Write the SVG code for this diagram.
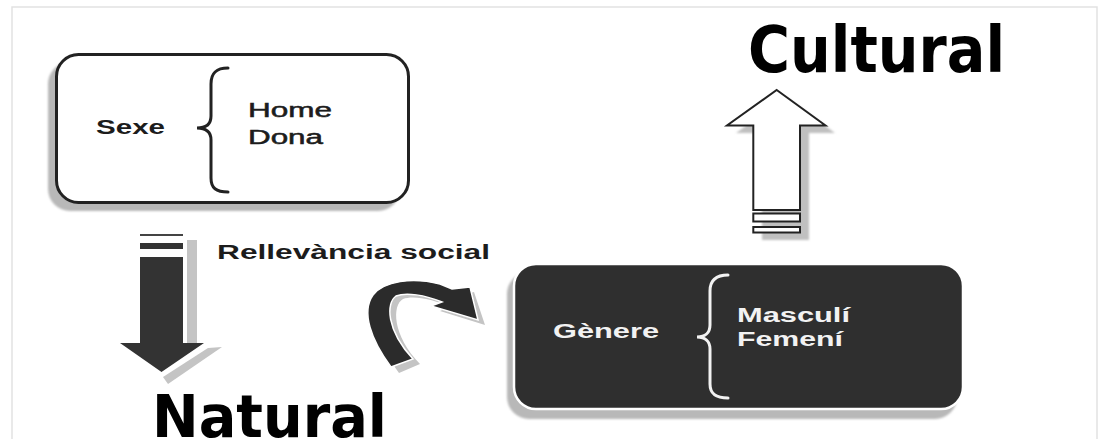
<svg xmlns="http://www.w3.org/2000/svg" width="1101" height="439" viewBox="0 0 1101 439">
<defs>
<filter id="soft" x="-10%" y="-10%" width="120%" height="120%"><feGaussianBlur stdDeviation="1.2"/></filter>
</defs>
<style>
.lbl{font-family:"Liberation Sans",Arial,sans-serif;font-size:19.5px;}
.b{font-weight:bold;}
.big{font-family:"DejaVu Sans",Verdana,sans-serif;font-weight:bold;fill:#000;}
.dk{fill:#1c1c1c;}
.wt{fill:#f2f2f2;}
.shadow{fill:#b8b8b8;filter:url(#soft);}
.brace{fill:none;stroke-width:3;stroke-linecap:round;}
</style>
<rect x="0" y="0" width="1101" height="439" fill="#fff"/>
<rect x="12" y="7" width="1085" height="440" fill="none" stroke="#e2e2e2" stroke-width="1.5"/>

<g id="sexe">
<rect class="shadow" x="48" y="62" width="352" height="149" rx="22"/>
<rect x="56.5" y="54.5" width="352" height="148" rx="22" fill="#fff" stroke="#222" stroke-width="3"/>
<path class="brace" stroke="#222" d="M228,68 C216,68 211,73 211,84 L211,116 C211,124 206,128 197,128 C206,128 211,132 211,140 L211,178 C211,188 216,192 228,192"/>
<text class="lbl b dk" x="96" y="134" textLength="69" lengthAdjust="spacingAndGlyphs">Sexe</text>
<text class="lbl dk" x="248" y="117" textLength="84" lengthAdjust="spacingAndGlyphs" style="stroke:#1c1c1c;stroke-width:0.5">Home</text>
<text class="lbl dk" x="248" y="144" textLength="75" lengthAdjust="spacingAndGlyphs" style="stroke:#1c1c1c;stroke-width:0.5">Dona</text>
</g>

<g id="genere">
<rect class="shadow" x="507" y="272" width="450" height="147" rx="22"/>
<rect x="514" y="264" width="449" height="145" rx="22" fill="#2f2f2f" stroke="#fff" stroke-width="2.5"/>
<path class="brace" stroke="#f2f2f2" d="M728,275 C716,275 710,280 710,291 L710,325 C710,333 705,337 697,337 C705,337 710,341 710,349 L710,384 C710,394 716,398 728,398"/>
<text class="lbl b wt" x="553" y="338" textLength="106" lengthAdjust="spacingAndGlyphs">Gènere</text>
<text class="lbl b wt" x="737" y="322" textLength="113" lengthAdjust="spacingAndGlyphs">Masculí</text>
<text class="lbl b wt" x="737" y="346" textLength="106" lengthAdjust="spacingAndGlyphs">Femení</text>
</g>

<g id="cultural">
<text class="big" x="748" y="72" font-size="64" textLength="257" lengthAdjust="spacingAndGlyphs">Cultural</text>
</g>

<g id="natural">
<text class="big" x="152" y="437" font-size="59" textLength="235" lengthAdjust="spacingAndGlyphs">Natural</text>
</g>

<g id="rellevancia">
<text class="lbl b dk" x="217" y="259" textLength="273" lengthAdjust="spacingAndGlyphs">Rellevància social</text>
</g>

<g id="connectors">
<g id="arrow-down">
<rect x="187" y="240" width="10" height="106" fill="#c4c4c4"/>
<polygon points="208,348 222,347 168,384 163,377" fill="#c4c4c4"/>
<rect x="140" y="234" width="43" height="2" fill="#444"/>
<rect x="140" y="243" width="43" height="6" fill="#333"/>
<polygon points="140,257 183,257 183,343 204,343 161.5,372 120,343 140,343" fill="#333"/>
</g>
<g id="arrow-up">
<path d="M786,97 L835,133 L809,133 L809,240 L762,240 L762,133 L736,133 Z" fill="#c0c0c0" filter="url(#soft)"/>
<path d="M776.7,90 L825.5,125.5 L800,125.5 L800,210 L753.3,210 L753.3,125.5 L727,125.5 Z" fill="#fff" stroke="#222" stroke-width="2"/>
<rect x="753.3" y="213.5" width="46.7" height="8" fill="#fff" stroke="#222" stroke-width="2"/>
<rect x="753.3" y="227" width="46.7" height="5.5" fill="#fff" stroke="#222" stroke-width="2"/>
</g>
<g id="arrow-curve">
<path d="M399,373 C380,346 370,318 382,302 C392,289 420,284 448,291 L460,296 L474,292 L485,325 L440,311 L450,307 C433,299 413,295 403,299 C392,305 392,335 420,364 Z" fill="#c4c4c4"/>
<path d="M391,367 C371,340 361,312 373,295 C384,281 412,277 440,284 L452,289 L470,287 L478,320 L431,306 L442,302 C425,295 406,292 396,296 C386,303 386,330 413,359 Z" fill="#2b2b2b" stroke="#fff" stroke-width="1.5"/>
</g>
</g>
</svg>
